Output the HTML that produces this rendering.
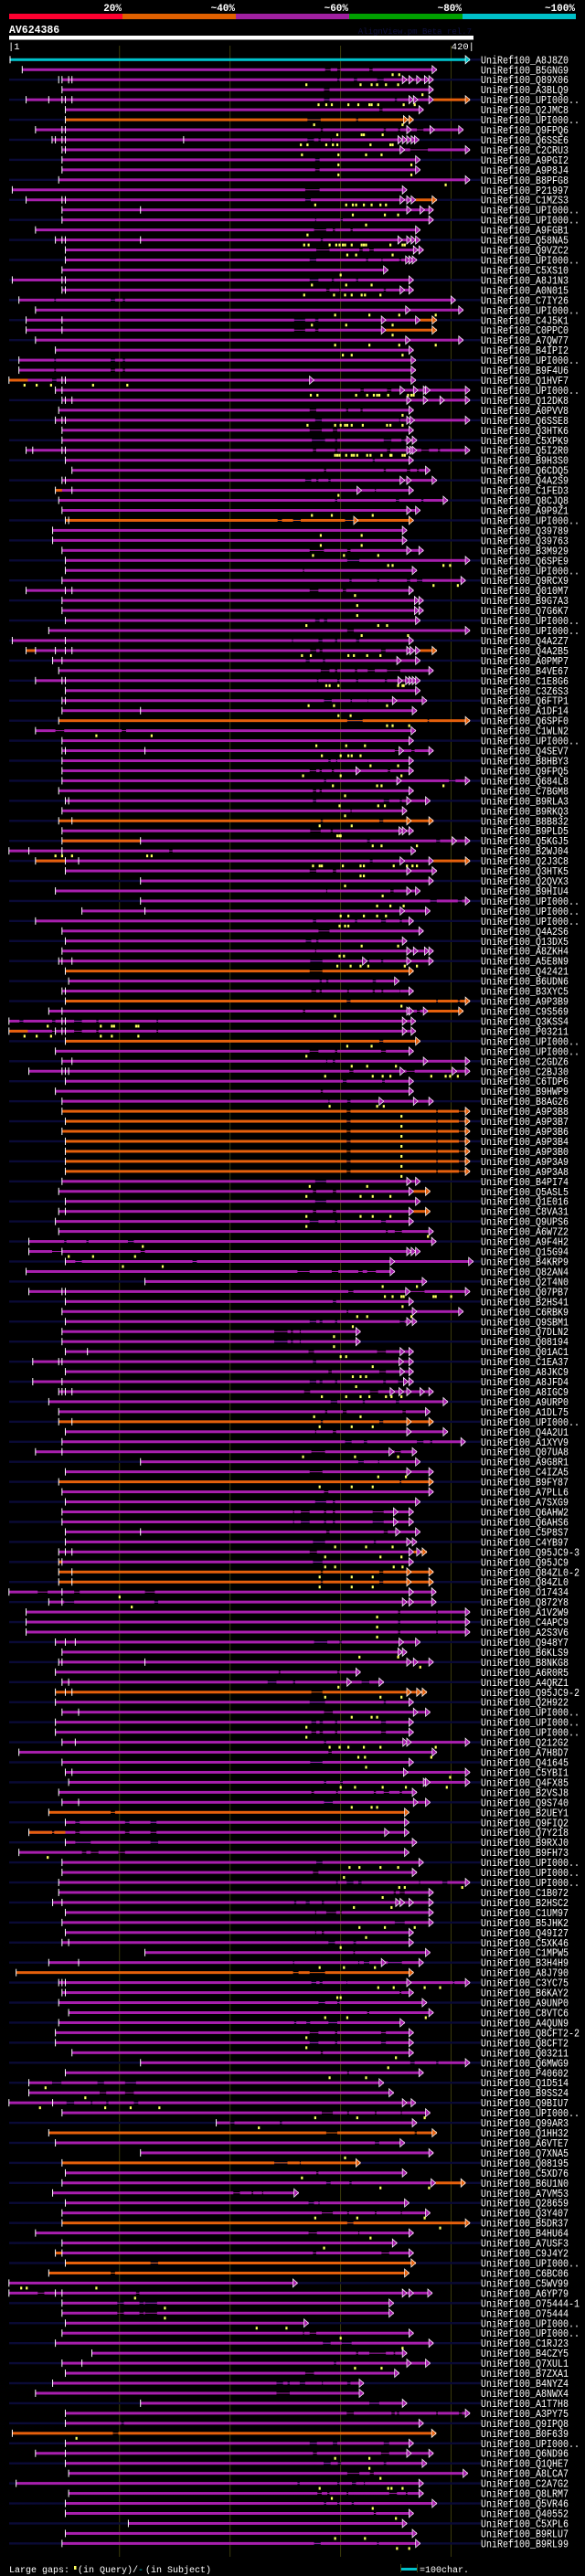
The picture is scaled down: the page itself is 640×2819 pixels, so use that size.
<!DOCTYPE html>
<html><head><meta charset="utf-8"><title>AlignView AV624386</title>
<style>
html,body{margin:0;padding:0;background:#000;}
svg{display:block;}
text{font-family:"Liberation Mono","DejaVu Sans Mono",monospace;}
</style></head>
<body>
<svg id="chart" xmlns="http://www.w3.org/2000/svg" width="640" height="2819" viewBox="0 0 640 2819">
<rect x="0" y="0" width="640" height="2819" fill="#000"/>
<g>
<rect x="10" y="15" width="124" height="6" fill="#ff0030"/>
<rect x="134" y="15" width="124" height="6" fill="#e06000"/>
<rect x="258" y="15" width="124" height="6" fill="#a020a0"/>
<rect x="382" y="15" width="124" height="6" fill="#00a000"/>
<rect x="506" y="15" width="124" height="6" fill="#00c0c8"/>
<text x="133" y="12" fill="#fff" font-size="11" font-weight="bold" text-anchor="end">20%</text>
<text x="257" y="12" fill="#fff" font-size="11" font-weight="bold" text-anchor="end">~40%</text>
<text x="381" y="12" fill="#fff" font-size="11" font-weight="bold" text-anchor="end">~60%</text>
<text x="505" y="12" fill="#fff" font-size="11" font-weight="bold" text-anchor="end">~80%</text>
<text x="629" y="12" fill="#fff" font-size="11" font-weight="bold" text-anchor="end">~100%</text>
</g>
<text x="10" y="36" fill="#fff" font-size="11.5" font-weight="bold">AV624386</text>
<text x="516" y="37" fill="#101040" font-size="9" text-anchor="end">AlignView.pm Beta rel.7</text>
<rect x="10" y="39" width="508" height="4.5" fill="#fff"/>
<text x="9" y="54" fill="#fff" font-size="10.5">|1</text>
<text x="519" y="54" fill="#fff" font-size="10.5" text-anchor="end">420|</text>
<g id="grid"></g>
<g id="rows"></g>
<g>
<text x="10" y="2815" fill="#fff" font-size="10">Large gaps:</text>
<rect x="81" y="2808" width="2.5" height="4" fill="#ffff60"/>
<text x="85" y="2815" fill="#fff" font-size="10">(in Query)/</text>
<text x="151" y="2815" fill="#00c0c8" font-size="10">-</text>
<text x="159" y="2815" fill="#fff" font-size="10">(in Subject)</text>
<rect x="439" y="2810" width="17" height="3" fill="#00c0c8"/>
<rect x="438" y="2806" width="1" height="9" fill="#404010"/>
<rect x="456" y="2806" width="1" height="9" fill="#404010"/>
<text x="459" y="2815" fill="#fff" font-size="10">=100char.</text>
</g>
</svg>
<script>
const labels=["UniRef100_A8J8Z0","UniRef100_B5GNG9","UniRef100_Q89X06","UniRef100_A3BLQ9","UniRef100_UPI000..","UniRef100_Q2JMC8","UniRef100_UPI000..","UniRef100_Q9FPQ6","UniRef100_Q6SSE6","UniRef100_C2CRU3",
"UniRef100_A9PGI2","UniRef100_A9P8J4","UniRef100_B8PFG8","UniRef100_P21997","UniRef100_C1MZS3","UniRef100_UPI000..","UniRef100_UPI000..","UniRef100_A9FGB1","UniRef100_Q58NA5","UniRef100_Q9VZC2",
"UniRef100_UPI000..","UniRef100_C5XS10","UniRef100_A8J1N3","UniRef100_A0N015","UniRef100_C7IY26","UniRef100_UPI000..","UniRef100_C4J5K1","UniRef100_C0PPC0","UniRef100_A7QW77","UniRef100_B4IPI2",
"UniRef100_UPI000..","UniRef100_B9F4U6","UniRef100_Q1HVF7","UniRef100_UPI000..","UniRef100_Q12DK8","UniRef100_A0PVV8","UniRef100_Q6SSE8","UniRef100_Q3HTK6","UniRef100_C5XPK9","UniRef100_Q5I2R0",
"UniRef100_B9H3S0","UniRef100_Q6CDQ5","UniRef100_Q4A2S9","UniRef100_C1FED3","UniRef100_Q8CJQ8","UniRef100_A9P9Z1","UniRef100_UPI000..","UniRef100_Q39789","UniRef100_Q39763","UniRef100_B3M929",
"UniRef100_Q6SPE9","UniRef100_UPI000..","UniRef100_Q9RCX9","UniRef100_Q010M7","UniRef100_B9G7A3","UniRef100_Q7G6K7","UniRef100_UPI000..","UniRef100_UPI000..","UniRef100_Q4A2Z7","UniRef100_Q4A2B5",
"UniRef100_A0PMP7","UniRef100_B4VE67","UniRef100_C1E8G6","UniRef100_C3Z6S3","UniRef100_Q6FTP1","UniRef100_A1DF14","UniRef100_Q6SPF0","UniRef100_C1WLN2","UniRef100_UPI000..","UniRef100_Q4SEV7",
"UniRef100_B8HBY3","UniRef100_Q9FPQ5","UniRef100_Q684L8","UniRef100_C7BGM8","UniRef100_B9RLA3","UniRef100_B9RKQ3","UniRef100_B8B832","UniRef100_B9PLD5","UniRef100_Q5KGJ5","UniRef100_B2WJ04",
"UniRef100_Q2J3C8","UniRef100_Q3HTK5","UniRef100_Q2QVX3","UniRef100_B9HIU4","UniRef100_UPI000..","UniRef100_UPI000..","UniRef100_UPI000..","UniRef100_Q4A2S6","UniRef100_Q13DX5","UniRef100_A8ZKH4",
"UniRef100_A5E8N9","UniRef100_Q42421","UniRef100_B6UDN6","UniRef100_B3XYC5","UniRef100_A9P3B9","UniRef100_C9S569","UniRef100_Q3KSS4","UniRef100_P03211","UniRef100_UPI000..","UniRef100_UPI000..",
"UniRef100_C2GDZ6","UniRef100_C2BJ30","UniRef100_C6TDP6","UniRef100_B9HWP9","UniRef100_B8AG26","UniRef100_A9P3B8","UniRef100_A9P3B7","UniRef100_A9P3B6","UniRef100_A9P3B4","UniRef100_A9P3B0",
"UniRef100_A9P3A9","UniRef100_A9P3A8","UniRef100_B4PI74","UniRef100_Q5ASL5","UniRef100_Q1E016","UniRef100_C8VA31","UniRef100_Q9UPS6","UniRef100_A6W7Z2","UniRef100_A9F4H2","UniRef100_Q15G94",
"UniRef100_B4KRP9","UniRef100_Q82AN4","UniRef100_Q2T4N0","UniRef100_Q07PB7","UniRef100_B2HS41","UniRef100_C6RBK9","UniRef100_Q9SBM1","UniRef100_Q7DLN2","UniRef100_Q08194","UniRef100_Q01AC1",
"UniRef100_C1EA37","UniRef100_A8JKC9","UniRef100_A8JFD4","UniRef100_A8IGC9","UniRef100_A9URP0","UniRef100_A1DL75","UniRef100_UPI000..","UniRef100_Q4A2U1","UniRef100_A1XYV9","UniRef100_Q07UA8",
"UniRef100_A9G8R1","UniRef100_C4IZA5","UniRef100_B9FY87","UniRef100_A7PLL6","UniRef100_A7SXG9","UniRef100_Q6AHW2","UniRef100_Q6AHS6","UniRef100_C5P8S7","UniRef100_C4YB97","UniRef100_Q95JC9-3",
"UniRef100_Q95JC9","UniRef100_Q84ZL0-2","UniRef100_Q84ZL0","UniRef100_O17434","UniRef100_Q872Y8","UniRef100_A1V2W9","UniRef100_C4APC9","UniRef100_A2S3V6","UniRef100_Q948Y7","UniRef100_B6KLS9",
"UniRef100_B8NKG8","UniRef100_A6R0R5","UniRef100_A4QRZ1","UniRef100_Q95JC9-2","UniRef100_Q2H922","UniRef100_UPI000..","UniRef100_UPI000..","UniRef100_UPI000..","UniRef100_Q212G2","UniRef100_A7H8D7",
"UniRef100_Q41645","UniRef100_C5YBI1","UniRef100_Q4FX85","UniRef100_B2VSJ8","UniRef100_Q9S740","UniRef100_B2UEY1","UniRef100_Q9FIQ2","UniRef100_Q7Y218","UniRef100_B9RXJ0","UniRef100_B9FH73",
"UniRef100_UPI000..","UniRef100_UPI000..","UniRef100_UPI000..","UniRef100_C1B072","UniRef100_B2HSC2","UniRef100_C1UM97","UniRef100_B5JHK2","UniRef100_Q49I27","UniRef100_C5XK46","UniRef100_C1MPW5",
"UniRef100_B3H4H9","UniRef100_A8J790","UniRef100_C3YC75","UniRef100_B6KAY2","UniRef100_A9UNP0","UniRef100_C8VTC6","UniRef100_A4QUN9","UniRef100_Q8CFT2-2","UniRef100_Q8CFT2","UniRef100_Q03211",
"UniRef100_Q6MWG9","UniRef100_P40602","UniRef100_Q1D514","UniRef100_B9SS24","UniRef100_Q9BIU7","UniRef100_UPI000..","UniRef100_Q99AR3","UniRef100_Q1HH32","UniRef100_A6VTE7","UniRef100_Q7XNA5",
"UniRef100_Q08195","UniRef100_C5XD76","UniRef100_B6U1N0","UniRef100_A7VM53","UniRef100_Q28659","UniRef100_Q3Y407","UniRef100_B5DR37","UniRef100_B4HU64","UniRef100_A7USF3","UniRef100_C9J4Y2",
"UniRef100_UPI000..","UniRef100_C6BC06","UniRef100_C5WV99","UniRef100_A6YP79","UniRef100_O75444-1","UniRef100_O75444","UniRef100_UPI000..","UniRef100_UPI000..","UniRef100_C1RJ23","UniRef100_B4CZY5",
"UniRef100_Q7XUL1","UniRef100_B7ZXA1","UniRef100_B4NYZ4","UniRef100_A8NWX4","UniRef100_A1T7H8","UniRef100_A3PY75","UniRef100_Q9IPQ8","UniRef100_B0F639","UniRef100_UPI000..","UniRef100_Q6ND96",
"UniRef100_Q1QHE7","UniRef100_A8LCA7","UniRef100_C2A7G2","UniRef100_Q8LRM7","UniRef100_Q5VR46","UniRef100_Q40552","UniRef100_C5XPL6","UniRef100_B9RLU7","UniRef100_B9RL99"];
const orangeRows=[6,46,66,76,91,94,98,105,106,107,108,109,110,111,136,142,151,152,163,175,191,207,210,216,220,221,237];
const cyanRows=[0];
const starts=[1,12,48,48,15.5,51,51,24,39,48, 48,48,45,3,15.5,48,48,24,42,51, 51,48,3,48,9,24,15.5,15.5,24,42, 9,9,0,42,48,45,42,48,48,15.5,
51,57,48,42,45,48,51,39.5,39.5,48, 51,51,48,15.5,48,48,51,36,3,15.5, 39.5,45,24,51,48,48,45,24,48,48, 48,48,48,45,51,48,45,48,48,0,
24,51,119,42,119,66,24,48,51,48, 45,51,54,48,51,36,0,0,51,42, 48,18,51,42,48,48,51,48,51,51, 51,51,48,45,51,45,42,45,18,18,
51,15.5,123,18,51,48,51,48,48,51, 21.5,51,21.5,45,36,45,45,51,48,24, 119,51,45,48,51,48,48,51,51,45, 45,45,45,0,36,15.5,15.5,15.5,42,48,
45,42,48,42,42,48,42,42,48,9, 48,51,54,45,48,36,51,18,51,9, 48,48,45,45,39.5,51,48,51,48,123, 36,6.5,45,48,45,54,45,42,42,57,
119,51,18,18,0,48,187.5,36,42,119, 48,51,48,39.5,51,48,48,24,48,42, 51,36,0,0,48,48,51,48,42,75, 48,51,39.5,24,119,51,51,3,51,24,
51,54,6.5,54,51,51,108,51,48];
const ends=[417,387,384,384,417,375,366,411,371,417, 372,372,417,360,387,384,384,372,372,375, 369,343,366,366,404,411,387,387,411,366, 368,368,368,417,417,366,417,366,369,417,
366,381,387,366,397,372,366,360,360,375, 417,369,413,366,375,375,372,417,366,387, 372,384,372,372,378,369,417,368,366,384, 366,366,417,366,381,360,384,366,417,368,
417,387,384,372,417,381,366,375,360,384, 384,366,353,366,417,411,368,368,372,366, 417,417,366,366,384,417,417,417,417,417, 417,417,372,381,372,381,366,384,386.5,372,
420,349,378,417,366,411,369,318,318,366, 366,366,366,384,397,381,384,397,413,369, 372,384,384,384,372,366,366,372,369,378, 366,384,384,386.5,386.5,417,417,417,372,360,
384,318,339,378,366,381,366,366,417,387, 366,417,417,369,381,362,362,362,369,362, 375,369,417,384,384,384,384,366,366,381, 375,366,417,366,378,384,358,366,366,366,
417,375,339,348,368,381,369,387,358,384, 318,360,413,262,362,381,417,366,351,366, 368,362,261,383,348,348,271,366,384,360, 381,353,321,321,360,417,375,386.5,366,384,
378,415,375,375,387,366,360,369,372];
const gapList=[[],[286,291,297,300,326,329],[297,299,312,315,333,339],[285,290],[285,290,349,351],[335,338],[270,282,314,316],[282,284,339,341,352,354,369,375],[270,276,280,282,291,292],[363,379],
[277,281],[277,281],[],[268,281],[268,273],[],[277,278,300,302],[276,287,293,295,309,311],[282,284],[278,290,317,320,326,330],
[272,278,323,325,337,338,353,355],[],[272,280,292,294,314,316],[287,290,299,300,339,341],[41,42.5,92,96,103,105],[],[258,268,277,280],[258,268,277,280],[],[],
[41,42.5,92,96,103,105],[41,42.5,92,96,103,105],[39,43],[318,321,342,346],[],[272,278,305,307,318,320],[277,283,353,354],[272,283,293,297],[274,286,295,297,339,346,355,358],[275,278,295,297,342,345,373,380,388,390],
[329,331],[285,287,339,341,360,363,369,371],[268,273.5,278,280,289,291],[331,332],[295,297,350,353,373,375],[],[243,247,257,264,304,314],[],[],[272,285,306,309],
[306,317],[266,267],[308,310,333,335,360,363,369,374],[272,280,302,305],[],[],[277,281,285,288],[306,312],[256,257,280,283.6,295,297,314,317],[272.5,278,281,283.6,336.6,340.7],
[268.5,272,284,286],[282,290,295,297,313,315,324.5,331,342,354],[278.6,280,297,299,314,316,340,342],[],[285,292,309,310.3,324.5,325],[],[306,320,378.7,380],[42,50,102,106],[],[349,354.5,364,367],
[289,291,296,297],[272,278,281,283,292,294,342.7,345],[285,287,398,404],[275,278,281,283],[275,278,339,344,353.5,355.5],[309,310],[282,284,335,338.6],[272.5,282,291,293],[324,326.5,386.5,390],[145,148],
[326.5,329],[272,278,293,296],[],[287,288,345,348],[381,387,406,410],[],[275,278,313,315,336.6,341,353.5,355.5],[280,290],[268.5,273.5,278,280],[277,278],
[272.5,283.6,324,326,336.6,338.6],[272,283.6],[281,283,287,289,329,332],[273.5,278,281,283,306,307.6,329,331,337,338.6,353.5,354],[305.5,309,386.5,388,406,408],[266,268,369,372],[9.5,13,39,42,59,66,79,81,133.5,135],[39,42,59,66,79,81,133.5,135],[335,338.6],[272,280,295,297,336.6,341],
[287,288,293,295],[308,311.6,359.5,367],[302,305.5,337.6,340],[282,284],[289,290,306,309],[305.5,309,386.5,388,407,412],[305.5,309,386.5,388,407,412],[305.5,309,386.5,388,407,412],[305.5,309,386.5,388,407,412],[305.5,309,386.5,388,407,412],
[305.5,309,386.5,388,407,412],[305.5,309,386.5,388,407,412],[277,287],[275,278,293,296],[277,287],[275,278,293,296],[272,280,295,297,336.6,341],[341,342.7,349,355.5],[50,52,70,72,107.6,113],[39,47.5,119,123],
[60,66,166,170],[261,272,292,298,316,320,324,332],[],[307,311.6,363,376],[293,296],[305.5,307],[272,278,281,283.6,295,297,353.5,358],[240,252,255,257,263,264],[240,252,255,257,263,264],[271,276,333,341],
[275,278],[289,292,335,341],[272,278,281,283.6,295,297,338.6,341,352,359],[267,272.5,326.5,334],[291,297,320,322,350,353],[286,288,302,305.5,356,359],[282,284,335,338.6],[277,278,293,296],[304,310,321,324,369,375,381,383],[273.5,286,349,354.5],
[316,321,334,335],[272,283.6],[353.5,355],[285,289],[277,287,293,295],[257,258,264,272,285,287,293,295,329,339],[257,258,264,272,285,287,293,295,329,339],[287,290,339,342.7],[275,286,330,332],[272,278.6],
[275,283.6],[282,284,335,338.6],[282,284,335,338.6],[26,35,59,64,123,132],[50,59,131.5,135],[352,354,386.5,388],[352,354,386.5,388],[352,354,386.5,388],[276,288,299,301],[],
[],[244,245.5,297,299],[234,242,257,259,319,326],[273.5,283.6],[272,286,339,341],[285,293],[273.5,278,281,284,295,297,336.6,341],[273.5,278,281,284,295,297,336.6,341],[285,287],[289,292],
[272.5,283.6],[],[285,287,299.5,302],[273.5,276,296,297.5,330,332,339,344,353.5,355.5],[285,293],[92,96],[60,64,105,109,128,133.5],[39,41,60,64,105,109,128,133.5],[60,74,128,135],[66,70,74,81,99,105],
[278,283.6],[275,280],[296,297.5,305.5,311.6,316,319,371,372,392,396.6],[348,350,353.5,358],[258,260,268.5,272,283,285],[277,278,287,296,299.5,301],[349,358],[277,278,283,285],[289,295,311.6,314],[311.6,313],
[257,258,316,317,321,326,342.7,355.5],[257,262,272,286],[273.5,278,281,283.6,305.5,306,401.7,403],[353.5,355],[280,286,297,299],[324,326],[258,260,269,272.5,289,297],[272,280,295,297,336.6,341],[272,280,295,297,336.6,341],[282,284],
[363,367,386.5,388.5],[306,307.6],[39,47.5,80,86,105,115],[82,88,105,113],[52,59,74,75.5,88,90,113,117],[283,293,306,307.6,331,332.5,354.5,355.5],[200,204,245,247],[287,297,367,369],[331,335],[],
[240,252,263,264],[278,280],[287,291,308,310],[203,209,219.5,221,229,230],[271,276,280,281],[283,293,306,307.6,331,332.5,354.5,355.5],[306,311.6],[271,278.6,316,317],[],[275,278,337,344],
[128,135],[92,96],[],[26,32,115,118],[98,104,118,122,123,134],[98,104,118,122,123,134],[],[266,267,272,278],[284,291,301,310],[314,316,326,341,348,349.4],
[294,296],[268,276],[242,248,252,254,263,268,283,284,306,309],[242,254],[326,335],[305.5,312,346,349,351,353,386.5,388,407,410],[101.5,104],[94,99],[272,278.6,293,297,339,344],[275,278.6,336.6,344],
[284.7,291,297.5,300.5,339,341.3],[306,317,326.5,330],[261,263,297,299,310.3,314,321,322],[279,283,288,290,305.5,307,344,351,359,360.5],[285,287,297,299,310,312],[330,332],[],[],[276,282,333,334.6]];
const markerList=[[],[347,353],[269,318,328,333,341,352],[374],[280,287,292,307,316,326,328,334,357,367],[],[276,356],[297,319,321,338],[264,270,287,293,297,327,345,347],[265,298,323,337],
[298,364],[298,364],[395],[],[277,305,311,314,321,328,336,341],[311,340,352],[323],[270],[267,271,290,296,299,302,304,310,319,321,323,345,356,358],[306,314,347],
[],[300],[274,305,328],[267,294,304,310,319,322,336],[],[295,326,353,386],[274,305,347],[347],[295,326,353,386],[302,310,356],
[],[],[14,25,38,76,107],[273,279,314,324,330,333,335,343,361,364,366],[],[356],[270,295,300,304,306,310,320,342,345,356],[],[],[295,297,299,305,310,312,315,324,327,337,345,346,356,358],
[],[],[],[298],[],[274,292,329],[],[282,319],[282,319],[275,303,334],
[343,347,393,399],[],[384,406],[313],[315],[315],[269,334,342],[319,361],[],[265,273,307,312,324,336],
[],[],[287,290,298,352,356,357],[],[271,294,342],[298,309],[342,347,362],[79,129],[278,305,322],[283,300,307,310,318],
[327,352],[266,300,355],[293,333,337,393],[304],[299,334,340],[304],[281,310],[297,299,300],[329,337,369],[42,48,57,125,129],
[275,281,283,302,318,321,348,360,365,369],[318,321],[304],[338],[333,345,357],[300,307,321,333,341],[299,304,307],[],[319,352],[299,303],
[297,309,318,325,358,369],[],[],[],[355],[295],[35,83,93,95,115,117],[14,25,38,83,93,117],[306,328],[269],
[310,324,350],[286,329,338,345,382,395,399,406],[],[],[290,333,339],[355],[355],[355],[355],[355],
[355],[355],[272,324],[269,318,329,345],[],[269,318,329,345],[269],[379],[121],[54,76,114],
[103,139],[],[338,369],[340,347,355,357,384,386,400],[356],[315,324,364],[311],[294],[294],[300,305],
[329],[311,318,323],[314],[283,305,318,326,341,346,355],[],[276,318],[281,310,329],[],[],[266,313,352],
[],[334,359],[281,310,329],[],[],[],[],[],[295,323,347],[286,336,355],
[286,295,348,356],[281,310,329],[281,310,329],[100],[111],[333],[333],[333],[],[317,352],
[372],[],[298],[286,336,355],[],[310,328,333],[269],[269],[290,299,307,321,336,386],[316,322,382],
[323],[399],[300,313,338,359,396],[],[310,328,333],[],[],[],[],[35],
[308,317,336,352],[303],[353,358,410],[338],[312,346],[],[317,340,367],[323],[300],[],
[281,303,331],[],[334,348,376,390],[297,300],[],[286,306,377],[],[269],[269],[350],
[343],[290,323],[33],[69],[28,87,110,136],[277,315,376],[226],[],[],[304],
[],[265],[336,380],[],[],[277,315,376],[390],[327],[285],[],
[],[],[11,16,79],[114],[141],[141],[224,251],[300],[356],[],
[313,337],[],[],[],[],[],[],[61],[],[295,326],
[326],[336],[281,343,346,356],[292],[329],[350],[],[295,322],[351,362]];
const tickList={2:[45,54,57],4:[36,48,51,57],7:[48,51],8:[42,48,51,158],9:[51],14:[48,51],15:[119],18:[48,51,119],22:[48,51],23:[51],26:[48],27:[48],32:[48,51],33:[48],34:[51,57],36:[48,51],39:[21.5,48,51],42:[51],43:[57],46:[54],53:[51,57],58:[51],59:[24,42,51,57],60:[48],62:[48,51],64:[51],65:[119],69:[51,123],74:[54],76:[57],78:[119],79:[18,48],80:[51,63],85:[123],90:[48,57],93:[51],95:[48],96:[48,51],97:[42,48,51],100:[57],101:[48,51,54],115:[51],119:[48],123:[48,51],129:[71],130:[45,48],132:[48],133:[48,51,57],136:[57],139:[48],147:[119],149:[51,57],150:[48],151:[57],152:[57],153:[48],154:[48],158:[51,60],160:[48,123],162:[54],163:[51,57],165:[63],168:[60],171:[57],174:[63],184:[48],188:[54],190:[63],192:[48,51],193:[51],204:[39.5],219:[48],223:[42,48],230:[66],239:[51]};
const arrowList={2:[360,366,373,380],4:[366,370],6:[361],7:[364,385],8:[356,360,364,368],9:[358],14:[358,364],15:[364,376],18:[356,364,368],19:[370],20:[363,366],23:[358],25:[363],26:[341],28:[363],32:[276],33:[358,370,379,381],34:[364,379,394],36:[364,367],38:[364],39:[364,367,369],42:[358,364],43:[319],45:[364],46:[316],49:[364],54:[371],55:[371],59:[364,367],60:[355],62:[356,363,366,369],64:[351],69:[357],71:[318],72:[355],74:[364],76:[364],77:[357,360],78:[405],80:[358],81:[364],83:[364],85:[358],89:[364,370,380],90:[324,364],95:[364,366],96:[360],97:[360],100:[379],101:[358,405],104:[339,370],112:[364],119:[364,368],120:[349],123:[363],125:[369],126:[364],129:[358],130:[357],131:[358],132:[361],133:[349,357,364,376],136:[364],137:[364],139:[348],141:[364],145:[352],146:[352],147:[354],148:[364],149:[373],151:[364],152:[364],153:[366],154:[360,366],158:[357],159:[356],160:[364,370],162:[310],163:[364,373],165:[370],168:[360.5,364],171:[361],172:[379,381],174:[370],177:[344],184:[354,358,366],190:[341],192:[364],204:[360],223:[360,366],230:[364],239:[364]};
const headRows=[32,43,59,78,80,97,150,177,219];
const headFrom=[0,42,15.5,48,24,0,45,18,42];
const headTo=[17,48,24,119,51,17,48,51,48];
const tailRows=[4,14,26,27,59,80,95,113,115,149,212];
const tailFrom=[384,368,372,341,372,384,379,366,366,366,386];

const NS="http://www.w3.org/2000/svg";
const COL={m:"#a81fae",o:"#e5600c",c:"#00c2cc"};
function xs(r){return 9.8+r*1.2093;}
function ys(i){return 65.3+i*10.96;}
function mk(tag,attrs,parent){const e=document.createElementNS(NS,tag);for(const k in attrs)e.setAttribute(k,attrs[k]);parent.appendChild(e);return e;}

const grid=document.getElementById('grid');
[100,200,300,400].forEach(function(r){
  const l=mk('rect',{x:xs(r)-0.5,y:50,width:1,height:2748,fill:'#3c3c0c'},grid);
  
  
});

const rowsG=document.getElementById('rows');
function bar(g,a,b,y,col,thin){
  const h=thin?1:3;
  const r=mk('rect',{x:xs(a),y:y-h/2,width:Math.max(0.5,xs(b)-xs(a)),height:h,fill:col},g);
  return r;
}
function drawBarWithGaps(g,a,b,y,col,gaps){
  bar(g,a,b,y,col,true);
  let cur=a;
  for(let k=0;k<gaps.length;k+=2){
    const g0=gaps[k],g1=gaps[k+1];
    if(g1<=a||g0>=b)continue;
    if(g0>cur)bar(g,cur,g0,y,col,false);
    cur=Math.max(cur,g1);
  }
  if(b>cur)bar(g,cur,b,y,col,false);
}
function arrow(g,r,y,col){
  const x=xs(r);
  const p=mk('polygon',{points:(x-5)+','+(y-4.5)+' '+x+','+y+' '+(x-5)+','+(y+4.5),fill:col,stroke:'#fff','stroke-width':'0.7'},g);
  
  
}

for(let i=0;i<labels.length;i++){
  const y=ys(i);
  const g=mk('g',{},rowsG);
  
  
  const color=cyanRows.indexOf(i)>=0?COL.c:(orangeRows.indexOf(i)>=0?COL.o:COL.m);
  if(i%2===0){
    const s=mk('rect',{x:10,y:y-1.2,width:516,height:2.4,fill:'#0a0a36'},g);
    
    
  }
  const hi=headRows.indexOf(i), ti=tailRows.indexOf(i);
  let a=starts[i], b=ends[i];
  let mainEnd=ti>=0?tailFrom[ti]:b;
  drawBarWithGaps(g,a,mainEnd,y,color,gapList[i]);
  if(hi>=0){drawBarWithGaps(g,headFrom[hi],headTo[hi],y,COL.o,gapList[i]);}
  if(ti>=0){bar(g,tailFrom[ti],b,y,COL.o,false);arrow(g,tailFrom[ti],y,color);}
  (arrowList[i]||[]).forEach(function(r){arrow(g,r,y,color);});
  arrow(g,b,y,ti>=0?COL.o:color);
  const st=mk('rect',{x:xs(a)-0.5,y:y-4,width:1,height:8,fill:'#fff'},g);
  
  
  (tickList[i]||[]).forEach(function(r){
    const t=mk('rect',{x:xs(r)-0.5,y:y-4,width:1,height:8,fill:'#fff'},g);
    
    
  });
  markerList[i].forEach(function(r){
    const m=mk('rect',{x:xs(r)-1,y:y+4,width:2.2,height:3,fill:'#ffff60'},g);
    
    
  });
  const t=mk('text',{x:526,y:y+4,fill:'#fff','font-size':'11.5',textLength:labels[i].length*6,lengthAdjust:'spacingAndGlyphs'},g);
  t.textContent=labels[i];
  
  
}
</script>
</body></html>
